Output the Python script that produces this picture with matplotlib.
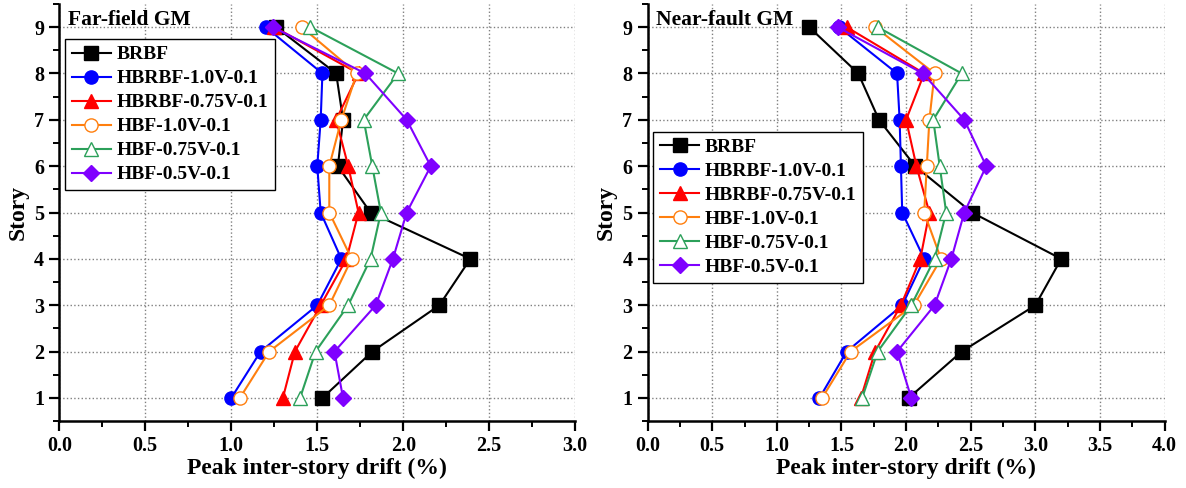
import matplotlib
matplotlib.use("Agg")
import matplotlib.pyplot as plt
from matplotlib.ticker import MultipleLocator

plt.rcParams['font.family'] = ['Liberation Serif', 'DejaVu Serif']
plt.rcParams['font.weight'] = 'bold'

story = [1, 2, 3, 4, 5, 6, 7, 8, 9]
names = ["BRBF", "HBRBF-1.0V-0.1", "HBRBF-0.75V-0.1", "HBF-1.0V-0.1", "HBF-0.75V-0.1", "HBF-0.5V-0.1"]

# far-field, story 1..9
far_brbf = [1.53, 1.82, 2.21, 2.39, 1.81, 1.62, 1.65, 1.61, 1.26]
far_hbrbf10 = [1.00, 1.17, 1.50, 1.64, 1.52, 1.50, 1.52, 1.53, 1.20]
far_hbrbf075 = [1.30, 1.37, 1.52, 1.67, 1.74, 1.68, 1.61, 1.74, 1.25]
far_hbf10 = [1.05, 1.22, 1.57, 1.70, 1.57, 1.57, 1.64, 1.73, 1.41]
far_hbf075 = [1.40, 1.49, 1.68, 1.81, 1.87, 1.82, 1.77, 1.97, 1.46]
far_hbf05 = [1.65, 1.60, 1.84, 1.94, 2.02, 2.16, 2.02, 1.78, 1.24]

# near-fault, story 1..9
near_brbf = [2.02, 2.43, 3.00, 3.20, 2.51, 2.07, 1.79, 1.63, 1.25]
near_hbrbf10 = [1.33, 1.54, 1.97, 2.14, 1.97, 1.96, 1.95, 1.93, 1.48]
near_hbrbf075 = [1.65, 1.76, 1.96, 2.11, 2.18, 2.08, 2.00, 2.14, 1.54]
near_hbf10 = [1.35, 1.57, 2.06, 2.27, 2.14, 2.16, 2.18, 2.22, 1.76]
near_hbf075 = [1.66, 1.78, 2.04, 2.22, 2.31, 2.26, 2.21, 2.43, 1.78]
near_hbf05 = [2.04, 1.93, 2.22, 2.35, 2.45, 2.62, 2.45, 2.13, 1.47]

colors = ['black', '#0000ff', '#ff0000', '#ff7f0e', '#2ca05a', '#7f00ff']
markers = ['s', 'o', '^', 'o', '^', 'D']
filled = [True, True, True, False, False, True]

fig = plt.figure(figsize=(11.86, 4.88), dpi=100)
ax1 = fig.add_axes([0.050, 0.137, 0.435, 0.855])
ax2 = fig.add_axes([0.546, 0.137, 0.436, 0.855])

def draw(ax, series, xmax, title, legloc):
    for i in range(len(series)):
        fc = colors[i] if filled[i] else 'white'
        ms = 8.5 if markers[i] == 'D' else 9.5
        ax.plot(series[i], story, color=colors[i], marker=markers[i], ms=ms,
                mfc=fc, mec=colors[i], lw=1.5, label=names[i])
    ax.set_xlim(0, xmax)
    ax.set_ylim(0.5, 9.5)
    ax.xaxis.set_major_locator(MultipleLocator(0.5))
    ax.xaxis.set_minor_locator(MultipleLocator(0.25))
    ax.yaxis.set_major_locator(MultipleLocator(1))
    ax.yaxis.set_minor_locator(MultipleLocator(0.5))
    ax.grid(True, which='major', ls=':', color='#808080', lw=1)
    ax.set_axisbelow(True)
    ax.spines['top'].set_visible(False)
    ax.spines['right'].set_visible(False)
    ax.spines['left'].set_linewidth(1.8)
    ax.spines['bottom'].set_linewidth(1.8)
    ax.tick_params(which='major', direction='out', length=7, width=1.6, labelsize=14.5, pad=4)
    ax.tick_params(which='minor', direction='out', length=4, width=1.4)
    ax.set_xlabel("Peak inter-story drift (%)", fontsize=17, fontweight='bold', labelpad=1)
    ax.set_ylabel("Story", fontsize=17, fontweight='bold', labelpad=4)
    ax.text(0.017, 0.985, title, transform=ax.transAxes, fontsize=15.5, fontweight='bold', va='top', ha='left')
    leg = ax.legend(loc='upper left', bbox_to_anchor=legloc, fontsize=14, frameon=True,
                    fancybox=False, edgecolor='black', framealpha=1,
                    handlelength=2.0, handletextpad=0.3, borderpad=0.35,
                    labelspacing=0.33, borderaxespad=0.3)
    leg.get_frame().set_linewidth(1.0)

draw(ax1, [far_brbf, far_hbrbf10, far_hbrbf075, far_hbf10, far_hbf075, far_hbf05], 3.0, "Far-field GM", (0.0, 0.93))
draw(ax2, [near_brbf, near_hbrbf10, near_hbrbf075, near_hbf10, near_hbf075, near_hbf05], 4.0, "Near-fault GM", (0.0, 0.708))

fig.savefig("out.png", dpi=100)
